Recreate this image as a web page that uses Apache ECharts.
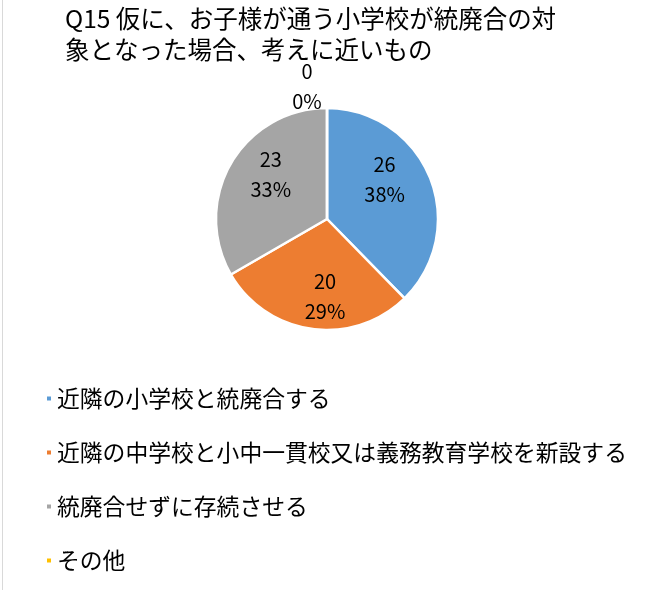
<!DOCTYPE html>
<html>
<head>
<meta charset="utf-8">
<script src="https://cdn.jsdelivr.net/npm/echarts@6/dist/echarts.min.js"></script>
<style>
html,body{margin:0;padding:0;background:#fff;}
#chart{width:648px;height:590px;}
</style>
</head>
<body>
<div id="chart"></div>
<script>
var titleText = 'Q15 仮に、お子様が通う小学校が統廃合の対\n象となった場合、考えに近いもの';
var categories = ['近隣の小学校と統廃合する', '近隣の中学校と小中一貫校又は義務教育学校を新設する', '統廃合せずに存続させる', 'その他'];
var values = [26, 20, 23, 0];
var colors = ['#5B9BD5', '#ED7D31', '#A5A5A5', '#FFC000'];

var FONT = '"Noto Sans CJK JP", "Noto Sans", sans-serif';
var pieData = categories.map(function (c, i) { return { name: c, value: values[i] }; });
// small label nudges (best-fit placement of the original)
var labelNudge = [[-10, -12], [8, 5], [7, -8], [-20, -60]];

var chart = echarts.init(document.getElementById('chart'), null, { renderer: 'canvas' });
chart.setOption({
  animation: false,
  backgroundColor: '#fff',
  color: colors,
  title: {
    text: titleText,
    left: 60,
    top: -2,
    textStyle: { fontFamily: FONT, fontSize: 24.5, fontWeight: 'normal', color: '#000', lineHeight: 31 }
  },
  legend: {
    orient: 'vertical',
    left: 40,
    top: 382,
    icon: 'rect',
    itemWidth: 6,
    itemHeight: 6,
    itemGap: 31,
    data: categories,
    selectedMode: false,
    textStyle: { fontFamily: FONT, fontSize: 22.8, color: '#000', lineHeight: 23 }
  },
  graphic: [{
    type: 'line',
    shape: { x1: 2.5, y1: 0, x2: 2.5, y2: 590 },
    style: { stroke: '#D9D9D9', lineWidth: 1 }
  }],
  series: [{
    type: 'pie',
    center: [327, 219],
    radius: [0, 111],
    startAngle: 90,
    clockwise: true,
    percentPrecision: 0,
    data: pieData,
    itemStyle: { borderColor: '#fff', borderWidth: 2.5 },
    label: { show: false },
    labelLine: { show: false },
    emphasis: { disabled: true }
  }, {
    type: 'pie',
    center: [327, 219],
    radius: [29, 111],
    startAngle: 90,
    clockwise: true,
    percentPrecision: 0,
    silent: true,
    data: pieData,
    itemStyle: { color: 'rgba(0,0,0,0)', borderWidth: 0 },
    label: {
      show: true,
      position: 'inside',
      formatter: function (p) { return p.value + '\n' + p.percent + '%'; },
      fontFamily: FONT,
      fontSize: 20,
      lineHeight: 30,
      color: '#000'
    },
    labelLine: { show: false },
    labelLayout: function (p) {
      var n = labelNudge[p.dataIndex] || [0, 0];
      return { dx: n[0], dy: n[1] };
    },
    emphasis: { disabled: true }
  }]
});
</script>
</body>
</html>
